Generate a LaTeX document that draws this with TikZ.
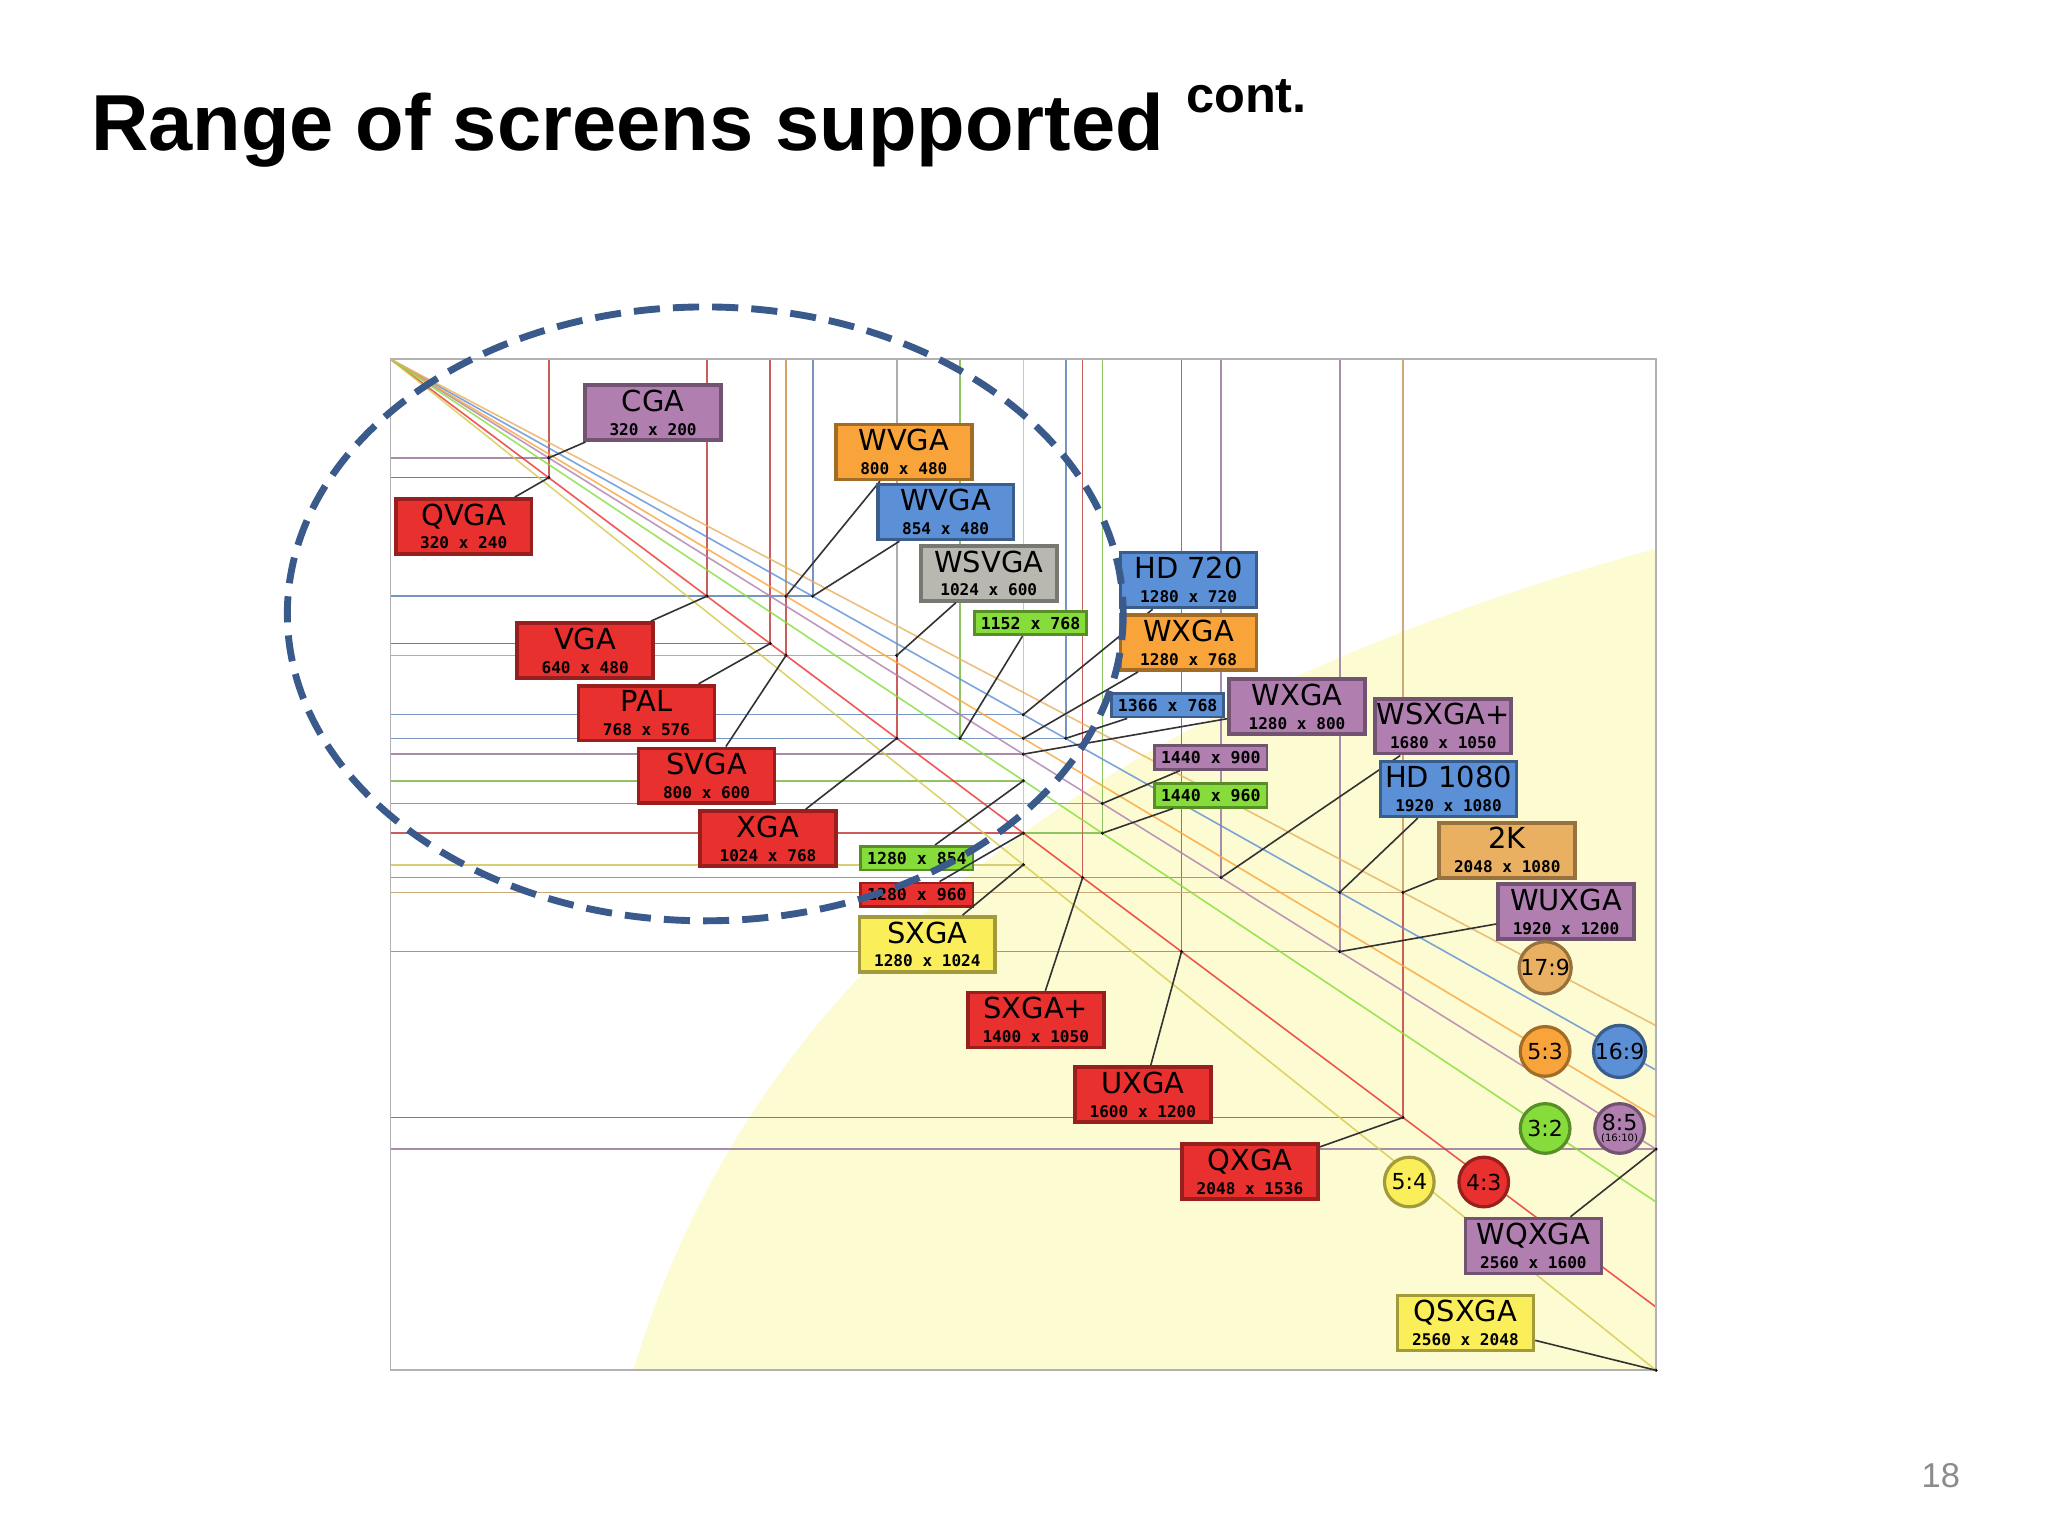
\documentclass[tikz,border=0pt]{standalone}
\usepackage{fontspec}
\setmainfont{Liberation Sans}
\newfontfamily\lf{DejaVu Sans}
\newfontfamily\mf{DejaVu Sans Mono}
\definecolor{cR}{HTML}{E8302E}
\definecolor{cP}{HTML}{B07FB0}
\definecolor{cO}{HTML}{F9A43A}
\definecolor{cB}{HTML}{5B8FD6}
\definecolor{cG}{HTML}{86DC3A}
\definecolor{cY}{HTML}{FBEE5B}
\definecolor{cT}{HTML}{E8B060}
\definecolor{cS}{HTML}{B8B8B0}
\definecolor{ell}{HTML}{3A5A8C}
\definecolor{yreg}{HTML}{FDFBD2}
\newcommand\rp[2]{({299+#1*0.3785},{275+#2*0.378})}
\newcommand\res[3]{\draw[#3!80!black!75,line width=0.35pt] \rp{#1}{0} -- \rp{#1}{#2} -- \rp{0}{#2};}
\newcommand\bl[2]{{\lf\fontsize{6.3}{5.2}\selectfont #1}\\{\mf\bfseries\fontsize{3.5}{5.2}\selectfont #2}}
\newcommand\lab[7]{\path \rp{#2}{#3} coordinate (c#1);
 \fill (c#1) circle[radius=1.3];
 \node[big=#5] (n#1) at (#6,#7) {#4};
 \draw[conn] (n#1) -- (c#1);}
\newcommand\slab[7]{\path \rp{#2}{#3} coordinate (c#1);
 \fill (c#1) circle[radius=1.3];
 \node[small=#5] (n#1) at (#6,#7) {\mf\bfseries\fontsize{3.6}{4}\selectfont #4};
 \draw[conn] (n#1) -- (c#1);}
\begin{document}
\begin{tikzpicture}[x=0.01cm,y=-0.01cm,
 big/.style={draw=#1!65!black,fill=#1,line width=0.8pt,minimum width=1.04cm,minimum height=0.42cm,inner sep=0pt,align=center,font=\fontsize{4}{5.2}\selectfont},
 small/.style={draw=#1!65!black,fill=#1,line width=0.6pt,minimum width=0.86cm,minimum height=0.18cm,inner sep=0pt},
 conn/.style={black!80,line width=0.35pt},
 circ/.style={draw=#1!65!black,fill=#1,circle,line width=0.7pt,minimum size=0.38cm,inner sep=0pt,font=\lf\fontsize{4.8}{4.8}\selectfont}]
\useasboundingbox (0,0) rectangle (1568,1176);
\fill[white] (0,0) rectangle (1568,1176);
% yellow region
\fill[yreg] (485,1049) .. controls (560,800) and (760,560) .. (1268,420) -- (1268,1049) -- cycle;
% rectangles
\res{320}{200}{cP}\res{320}{240}{cR}\res{640}{480}{cR}\res{768}{576}{cR}\res{800}{600}{cR}
\res{1024}{768}{cR}\res{800}{480}{cO}\res{854}{480}{cB}\res{1024}{600}{cS}\res{1152}{768}{cG}
\res{1280}{720}{cB}\res{1280}{768}{cO}\res{1366}{768}{cB}\res{1280}{800}{cP}\res{1440}{900}{cP}
\res{1440}{960}{cG}\res{1280}{854}{cG}\res{1280}{960}{cR}\res{1280}{1024}{cY}\res{1400}{1050}{cR}
\res{1600}{1200}{cR}\res{2048}{1536}{cR}\res{1680}{1050}{cP}\res{1920}{1080}{cB}\res{2048}{1080}{cT}
\res{1920}{1200}{cP}\res{2560}{1600}{cP}\res{2560}{2048}{cY}
% diagonals
\path \rp{0}{0} coordinate (o);
\begin{scope}[line width=0.35pt,opacity=0.8]
\draw[cR] (o) -- \rp{2560}{1920};
\draw[cY!85!black] (o) -- \rp{2560}{2048};
\draw[cB] (o) -- \rp{2560}{1440};
\draw[cP] (o) -- \rp{2560}{1600};
\draw[cO] (o) -- \rp{2560}{1536};
\draw[cG] (o) -- \rp{2560}{1707};
\draw[cT] (o) -- \rp{2560}{1350};
\end{scope}
% frame
\draw[black!30,line width=0.4pt] \rp{0}{0} rectangle \rp{2560}{2048};
% labels
\lab{cga}{320}{200}{\bl{CGA}{320 x 200}}{cP}{500}{316}
\lab{qvga}{320}{240}{\bl{QVGA}{320 x 240}}{cR}{355}{403}
\lab{wvgao}{800}{480}{\bl{WVGA}{800 x 480}}{cO}{692}{346}
\lab{wvgab}{854}{480}{\bl{WVGA}{854 x 480}}{cB}{724}{392}
\lab{wsvga}{1024}{600}{\bl{WSVGA}{1024 x 600}}{cS}{757}{439}
\slab{a1152}{1152}{768}{1152 x 768}{cG}{789}{477}
\lab{hd720}{1280}{720}{\bl{HD 720}{1280 x 720}}{cB}{910}{444}
\lab{wxgao}{1280}{768}{\bl{WXGA}{1280 x 768}}{cO}{910}{492}
\slab{a1366}{1366}{768}{1366 x 768}{cB}{894}{540}
\lab{wxgap}{1280}{800}{\bl{WXGA}{1280 x 800}}{cP}{993}{541}
\lab{wsxga}{1680}{1050}{\bl{WSXGA+}{1680 x 1050}}{cP}{1105}{556}
\slab{a1440}{1440}{900}{1440 x 900}{cP}{927}{580}
\slab{b1440}{1440}{960}{1440 x 960}{cG}{927}{609}
\lab{hd1080}{1920}{1080}{\bl{HD 1080}{1920 x 1080}}{cB}{1109}{604}
\lab{tk}{2048}{1080}{\bl{2K}{2048 x 1080}}{cT}{1154}{651}
\lab{wuxga}{1920}{1200}{\bl{WUXGA}{1920 x 1200}}{cP}{1199}{698}
\lab{vga}{640}{480}{\bl{VGA}{640 x 480}}{cR}{448}{498}
\lab{pal}{768}{576}{\bl{PAL}{768 x 576}}{cR}{495}{546}
\lab{svga}{800}{600}{\bl{SVGA}{800 x 600}}{cR}{541}{594}
\lab{xga}{1024}{768}{\bl{XGA}{1024 x 768}}{cR}{588}{642}
\slab{a1280}{1280}{854}{1280 x 854}{cG}{702}{657}
\slab{b1280}{1280}{960}{1280 x 960}{cR}{702}{685}
\lab{sxga}{1280}{1024}{\bl{SXGA}{1280 x 1024}}{cY}{710}{723}
\lab{sxgap}{1400}{1050}{\bl{SXGA+}{1400 x 1050}}{cR}{793}{781}
\lab{uxga}{1600}{1200}{\bl{UXGA}{1600 x 1200}}{cR}{875}{838}
\lab{qxga}{2048}{1536}{\bl{QXGA}{2048 x 1536}}{cR}{957}{897}
\lab{wqxga}{2560}{1600}{\bl{WQXGA}{2560 x 1600}}{cP}{1174}{954}
\lab{qsxga}{2560}{2048}{\bl{QSXGA}{2560 x 2048}}{cY}{1122}{1013}
% ratio circles
\node[circ=cT] (r179) at (1183,741) {17:9};
\node[circ=cO] (r53) at (1183,805) {5:3};
\node[circ=cB] (r169) at (1240,805) {16:9};
\node[circ=cG] (r32) at (1183,864) {3:2};
\node[circ=cP,align=center] (r85) at (1240,864) {8:5\\[-2.5pt]{\fontsize{2.2}{2.2}\selectfont (16:10)}};
\node[circ=cY] (r54) at (1079,905) {5:4};
\node[circ=cR] (r43) at (1136,905) {4:3};
% ellipse
\draw[ell,line width=1.5pt,dash pattern=on 0.2cm off 0.1cm] (540,470) ellipse [x radius=320,y radius=235];
% title
\node[anchor=base west,inner sep=0pt] (title) at (69,115) {\fontsize{17.3}{19}\selectfont\bfseries Range of screens supported \raisebox{0.9ex}{\fontsize{11}{12}\selectfont cont.}};
\node[text=black!45,font=\fontsize{7.5}{8}\selectfont] (pg) at (1486,1130) {18};
\end{tikzpicture}
\end{document}
